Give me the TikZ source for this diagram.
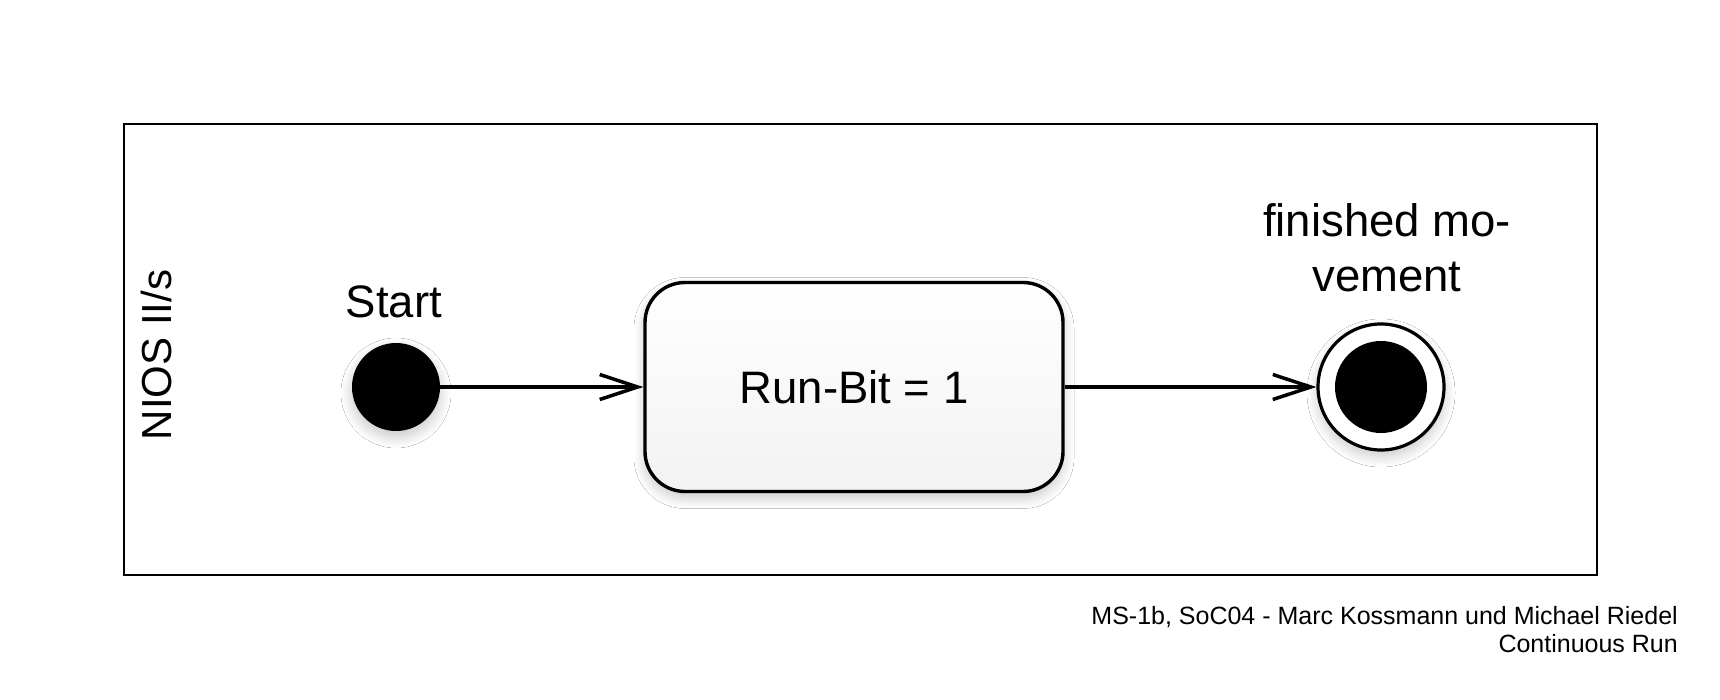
\documentclass[tikz,border=0pt]{standalone}
\usepackage{fontspec}
\setmainfont{Liberation Sans}
\usetikzlibrary{arrows.meta,shadows.blur}
\begin{document}
\begin{tikzpicture}[x=1pt,y=-1pt,
  big/.style={font=\fontsize{45.5}{55}\selectfont},
  lanefont/.style={font=\fontsize{42}{50}\selectfont},
  small/.style={font=\fontsize{25}{28.5}\selectfont},
  softshadow/.style={blur shadow={shadow xshift=0pt,shadow yshift=-6pt,shadow blur radius=11pt,shadow opacity=22,shadow blur steps=12}},
  initstate/.style={circle,fill=black,minimum size=88pt,inner sep=0pt,softshadow},
  statebox/.style={rectangle,rounded corners=40pt,draw=black,line width=3.4pt,
    top color=white,bottom color=black!5,minimum width=418pt,minimum height=209pt,softshadow,big},
  finalstate/.style={circle,draw=black,line width=3.2pt,fill=white,minimum size=126pt,inner sep=0pt,softshadow},
  finalcore/.style={circle,fill=black,minimum size=92pt,inner sep=0pt},
  trans/.style={line width=3.5pt,-{Straight Barb[length=38pt,width=25pt,line width=3.5pt]}}
]
\useasboundingbox (0,0) rectangle (1720,700);
\fill[white] (0,0) rectangle (1720,700);
\draw[line width=2pt] (124,124) rectangle (1597,575);
\node[lanefont,rotate=90,anchor=base,inner sep=0pt] (lane) at (171,355) {NIOS II/s};
\node[initstate] (start) at (396,387) {};
\node[big,anchor=base,inner sep=0pt] (startlbl) at (394,317) {Start};
\node[statebox] (run) at (854,387) {Run-Bit = 1};
\node[finalstate] (final) at (1381,387) {};
\node[finalcore] (finalin) at (final.center) {};
\node[big,align=center,anchor=south,inner sep=0pt] (finallbl) at (1387,292) {finished mo-\\vement};
\draw[trans] (start) -- (run);
\draw[trans] (run) -- (final);
\node[small,align=right,anchor=south east,inner sep=0pt] (footer) at (1678,653) {MS-1b, SoC04 - Marc Kossmann und Michael Riedel\\Continuous Run};
\end{tikzpicture}
\end{document}
